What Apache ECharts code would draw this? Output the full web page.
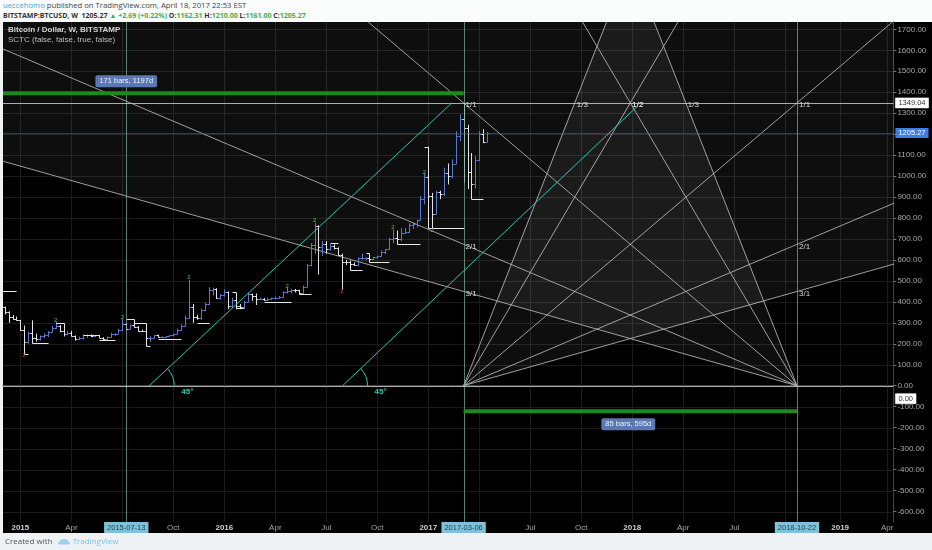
<!DOCTYPE html>
<html><head><meta charset="utf-8">
<script src="https://cdn.jsdelivr.net/npm/echarts@6/dist/echarts.min.js"></script>
<style>
html,body{margin:0;padding:0;width:932px;height:550px;overflow:hidden;background:#eef2f4;font-family:'Open Sans',sans-serif;}
#hdr{position:absolute;left:0;top:0;width:932px;height:22px;background:#fbfcfc;}
#hdr .l1{position:absolute;left:3px;top:1px;font-size:7.7px;line-height:9px;color:#444;white-space:nowrap;}
#hdr .l2{position:absolute;left:3px;top:11px;font-size:7px;line-height:9px;font-weight:bold;color:#333;white-space:nowrap;}
#hdr .u{color:#3aa6dc;}
#hdr .g{color:#3cae4c;}
#blk{position:absolute;left:3px;top:22px;width:929px;height:511px;background:#000;}
#c{position:absolute;left:0;top:0;width:932px;height:550px;}
#ftr{position:absolute;left:5px;top:536px;font-size:8px;line-height:10px;color:#555;white-space:nowrap;}
#ftr .tv{color:#7cc2e6;}
#logo{display:inline-block;width:12px;height:7px;vertical-align:-1px;margin:0 3px 0 3px;}
</style>
</head><body>
<div id="hdr">
 <div class="l1"><span class="u">ueccehomo</span> published on TradingView.com, April 18, 2017 22:53 EST</div>
 <div class="l2">BITSTAMP:BTCUSD, W &nbsp;1205.27 <span class="g">▲ +2.69 (+0.22%)</span> O:<span class="g">1162.31</span> H:<span class="g">1210.00</span> L:<span class="g">1161.00</span> C:<span class="g">1205.27</span></div>
</div>
<div id="blk"></div>
<div id="c"></div>
<div id="ftr">Created with <svg id="logo" viewBox="0 0 24 14"><path d="M3 13 Q0 13 0 10 Q0 7 3 7 Q4 2 9 3 Q12 0 16 3 Q21 3 22 8 Q24 9 24 11 Q24 13 21 13 Z" fill="#9bd0ee"/></svg><span class="tv">TradingView</span></div>
<script>
// ================= DATA =================
const firstBarDate = '2014-12-01';           // weekly bars, one per week from here
const opens  = [378,375,350,330,318,314,268,208,252,228,222,235,240,255,275,285,260,248,253,236,222,226,240,242,237,240,230,222,233,245,248,265,295,272,290,282,262,260,228,230,240,232,232,235,240,247,268,285,325,375,330,324,360,390,455,460,420,432,448,382,408,378,374,400,438,430,412,415,410,416,418,420,424,448,452,458,455,442,472,575,670,760,660,675,650,665,655,625,590,588,580,575,608,608,610,603,612,617,640,650,700,705,700,730,735,765,770,790,892,998,905,820,925,915,1015,1000,1060,1190,1270,1230,1020,960,1075,1200,1162.31];
const highs  = [382,378,355,338,330,314,275,258,310,248,240,250,260,285,305,290,262,262,262,240,235,245,245,245,241,243,232,235,252,250,272,318,298,292,298,285,268,262,236,240,244,236,238,240,248,272,292,335,505,390,338,368,395,470,468,465,438,460,450,420,410,390,405,445,440,440,420,418,420,420,425,428,450,468,462,462,458,478,580,680,778,765,690,690,675,675,660,630,600,590,588,612,630,612,612,615,620,645,650,705,745,740,752,752,775,780,792,905,1012,1140,920,930,930,1040,1060,1080,1214,1295,1349.04,1245,1110,1095,1214,1224,1210];
const lows   = [362,340,300,315,310,262,152,200,215,210,215,228,232,254,270,255,235,240,235,215,218,220,228,232,232,228,218,220,230,238,248,262,270,268,278,258,256,190,208,225,230,226,228,233,236,245,262,284,320,300,315,315,355,385,430,415,410,425,365,370,365,365,370,398,405,385,408,405,405,410,415,418,422,440,440,445,435,438,470,570,630,530,620,630,645,650,620,460,575,565,572,570,602,600,595,600,608,615,628,648,680,690,690,725,728,748,755,788,865,812,750,815,890,905,960,990,1058,1166,968,938,890,940,1071,1157,1161];
const closes = [375,350,330,318,314,268,208,252,228,222,235,240,255,275,285,260,248,253,236,222,226,240,242,237,240,230,222,233,245,248,265,295,272,290,282,262,260,228,230,240,232,232,235,240,247,268,285,325,375,330,324,360,390,455,460,420,432,448,382,408,378,374,400,438,430,412,415,410,416,418,420,424,448,452,458,455,442,472,575,670,760,660,675,650,665,655,625,590,588,580,575,608,608,610,603,612,617,640,650,700,705,700,730,735,765,770,790,892,998,905,820,925,915,1015,1000,1060,1190,1270,1230,1020,960,1075,1200,1163,1205.27];

// x-axis tick labels (placed on the first weekly bar of each period)
const xTickDates  = ['2015-01-05','2015-04-06','2015-07-06','2015-10-05','2016-01-04','2016-04-04','2016-07-04','2016-10-03','2017-01-02','2017-04-03','2017-07-03','2017-10-02','2018-01-01','2018-04-02','2018-07-02','2018-10-01','2019-01-07','2019-04-01'];
const xTickLabels = ['2015','Apr','Jul','Oct','2016','Apr','Jul','Oct','2017','Apr','Jul','Oct','2018','Apr','Jul','Oct','2019','Apr'];
const xHighlightDates = ['2015-07-13','2017-03-06','2018-10-22'];
// y-axis ticks
const yTickValues = [-600,-500,-400,-300,-200,-100,0,100,200,300,400,500,600,700,800,900,1000,1100,1200,1300,1400,1500,1600,1700];
// price-scale boxes
const priceBoxValues = [1349.04, 1205.27, -62];
const priceBoxTexts  = ['1349.04','1205.27','0.00'];
const priceBoxStyles = ['w','b','w'];

// drawings
const vLineDates = ['2015-07-13','2017-03-06','2018-10-22'];
const hLinePrices = [1349.04, 0];
const lastPrice = 1205.27;
const fanOrigins = ['2017-03-06','2018-10-22'];
const fanCorners = ['2018-10-22','2017-03-06'];
const fanBasePrice = 0, fanTopPrice = 1349.04;
const fanLevelLabels = ['1/3','1/2','1/1','2/1','3/1'];
const fanTimeFrac  = [1/3, 1/2, 1, 1, 1];
const fanPriceFrac = [1, 1, 1, 1/2, 1/3];
const trendStarts = [['2015-08-23',0],['2016-08-02',0]];
const trendEnds   = [['2017-02-13',1349.04],['2018-01-10',1333]];
const rangeStarts = ['2013-11-25','2017-03-06'];
const rangeEnds   = ['2017-03-06','2018-10-22'];
const rangePrices = [1395, -122];
const rangeTexts  = ['171 bars, 1197d','85 bars, 595d'];
// SCTC indicator brackets
const brackets = [
 [['2014-11-24',452],['2014-12-29',452]],
 [['2015-01-12',290],['2015-01-12',152],['2015-01-19',152]],
 [['2015-01-26',312],['2015-01-26',206],['2015-02-23',206]],
 [['2015-03-09',300],['2015-03-23',300],['2015-03-23',262]],
 [['2015-04-27',241],['2015-05-25',241]],
 [['2015-05-25',220],['2015-06-22',220]],
 [['2015-07-13',318],['2015-07-27',318],['2015-07-27',297],['2015-08-17',297],['2015-08-17',190],['2015-08-24',190]],
 [['2015-09-07',223],['2015-10-19',223]],
 [['2015-11-16',297],['2015-12-07',297]],
 [['2016-01-18',448],['2016-01-25',448],['2016-01-25',372],['2016-02-08',372]],
 [['2016-03-14',398],['2016-05-02',398]],
 [['2016-05-16',437],['2016-06-06',437]],
 [['2016-07-11',683],['2016-07-25',683]],
 [['2016-08-15',600],['2016-08-15',551],['2016-09-05',551]],
 [['2016-09-12',631],['2016-09-19',631],['2016-09-19',591],['2016-10-24',591]],
 [['2016-11-07',705],['2016-11-07',674],['2016-12-19',674]],
 [['2016-12-26',1140],['2017-01-02',1140],['2017-01-02',752],['2017-03-06',752]],
 [['2017-03-20',893],['2017-04-10',893]]
];
const greenMarks = [['2015-03-09',314],['2015-07-06',325],['2015-11-02',516],['2016-04-25',476],['2016-06-13',790],['2016-10-31',757],['2016-12-26',1019],['2017-01-09',742]];
const redMarks = [['2015-01-12',146],['2016-08-01',451]];

// axis extents
const xMinDate = '2014-12-05', xMaxDate = '2019-04-12';
const yMin = -650, yMax = 1735;

// ================= HELPERS =================
const DAY = 86400000;
function ts(s){ const p = s.split('-').map(Number); return Date.UTC(p[0], p[1]-1, p[2]); }
const barDates = opens.map((_, i) => ts(firstBarDate) + i * 7 * DAY);
const ohlcData = barDates.map((t, i) => [t, opens[i], highs[i], lows[i], closes[i]]);
const xTickTs = xTickDates.map(ts);
const xLabelMap = {}; xTickTs.forEach((t, i) => { xLabelMap[t] = xTickLabels[i]; });
const hlTs = xHighlightDates.map(ts);
const hlMap = {}; hlTs.forEach((t, i) => { hlMap[t] = xHighlightDates[i]; });

const BLUE = '#5a7ad2', WHITE = '#e4e4e4', CYAN = '#2cc6ae', FAN = 'rgba(185,185,185,0.85)';
const FONT = "'Liberation Sans', Arial, sans-serif";

function cr(v){ return Math.round(v) + 0.5; }

// ================= RENDERERS =================
function renderGrid(params, api){
  const cs = params.coordSys;
  const kind = api.value(2);
  let shape;
  if (kind === 0) { const x = cr(api.coord([api.value(0), 0])[0]); shape = {x1:x, y1:cs.y, x2:x, y2:cs.y+cs.height}; }
  else { const y = cr(api.coord([api.value(0), api.value(1)])[1]); shape = {x1:cs.x, y1:y, x2:cs.x+cs.width, y2:y}; }
  return {type:'line', shape, style:{stroke:'#1b1b1b', lineWidth:1}};
}
function renderOHLC(params, api){
  const t = api.value(0), o = api.value(1), h = api.value(2), l = api.value(3), c = api.value(4);
  const pH = api.coord([t, h]), pL = api.coord([t, l]), pO = api.coord([t, o]), pC = api.coord([t, c]);
  const x = cr(pH[0]);
  const col = c >= o ? BLUE : WHITE;
  const st = {stroke: col, lineWidth: 1};
  return {type:'group', children:[
    {type:'line', shape:{x1:x, y1:pH[1], x2:x, y2:pL[1]}, style:st},
    {type:'line', shape:{x1:x-2, y1:cr(pO[1]), x2:x, y2:cr(pO[1])}, style:st},
    {type:'line', shape:{x1:x, y1:cr(pC[1]), x2:x+2, y2:cr(pC[1])}, style:st}
  ]};
}
function renderRefLine(params, api){
  const cs = params.coordSys;
  const kind = api.value(2);
  if (kind === 0) {
    const x = cr(api.coord([api.value(0), 0])[0]);
    return {type:'line', shape:{x1:x, y1:cs.y, x2:x, y2:cs.y+cs.height}, style:{stroke:'rgba(120,170,150,0.75)', lineWidth:1}};
  }
  const y = cr(api.coord([api.value(0), api.value(1)])[1]);
  const stroke = kind === 2 ? 'rgba(70,90,200,0.55)' : 'rgba(200,200,200,0.85)';
  return {type:'line', shape:{x1:cs.x, y1:y, x2:cs.x+cs.width, y2:y}, style:{stroke, lineWidth:1}};
}
function renderFan(params, api){
  const oT = api.value(0), oP = api.value(1), cT = api.value(2), cP = api.value(3);
  const dT = cT - oT, dP = cP - oP, K = 4;
  const O = api.coord([oT, oP]);
  const far = [], box = [];
  for (let i = 0; i < fanLevelLabels.length; i++) {
    far.push(api.coord([oT + K*fanTimeFrac[i]*dT, oP + K*fanPriceFrac[i]*dP]));
    box.push(api.coord([oT + fanTimeFrac[i]*dT, oP + fanPriceFrac[i]*dP]));
  }
  const ch = [];
  for (let i = 0; i < far.length - 1; i++) {
    ch.push({type:'polygon', shape:{points:[O, far[i], far[i+1]]}, style:{fill:'rgba(255,255,255,0.055)'}});
  }
  for (let i = 0; i < far.length; i++) {
    ch.push({type:'line', shape:{x1:O[0], y1:O[1], x2:far[i][0], y2:far[i][1]}, style:{stroke:FAN, lineWidth:1}});
  }
  for (let i = 0; i < box.length; i++) {
    ch.push({type:'text', x:box[i][0]+2, y:box[i][1]+2, style:{text:fanLevelLabels[i], fill:'#d6d6d6', font:'8px '+FONT, align:'left', verticalAlign:'middle'}});
  }
  return {type:'group', children:ch};
}
function renderTrend(params, api){
  const s = api.coord([api.value(0), api.value(1)]), e = api.coord([api.value(2), api.value(3)]);
  const ang = Math.atan2(e[1]-s[1], e[0]-s[0]);
  return {type:'group', children:[
    {type:'line', shape:{x1:s[0], y1:s[1], x2:e[0], y2:e[1]}, style:{stroke:CYAN, lineWidth:1}},
    {type:'arc', shape:{cx:s[0], cy:s[1], r:25, startAngle:ang, endAngle:0, clockwise:true}, style:{stroke:CYAN, lineWidth:1, fill:null}},
    {type:'text', x:s[0]+32, y:s[1]+6, style:{text:'45°', fill:CYAN, font:'bold 8px '+FONT, align:'left', verticalAlign:'middle'}}
  ]};
}
function renderRange(params, api){
  const i = params.dataIndex;
  const a = api.coord([api.value(0), api.value(2)]), b = api.coord([api.value(1), api.value(2)]);
  const m = api.coord([(api.value(0)+api.value(1))/2, api.value(2)]);
  const dy = i === 0 ? -12 : 13;
  return {type:'group', children:[
    {type:'line', shape:{x1:a[0], y1:a[1], x2:b[0], y2:b[1]}, style:{stroke:'#1c8a1c', lineWidth:4}},
    {type:'text', x:m[0]-2, y:m[1]+dy, style:{text:rangeTexts[i], fill:'#eef2fa', font:'7.5px '+FONT, align:'center', verticalAlign:'middle', backgroundColor:'#5b78b2', padding:[2,4,2,4], borderRadius:2}}
  ]};
}
function renderBracket(params, api){
  const pts = brackets[params.dataIndex].map(p => { const c = api.coord([ts(p[0]), p[1]]); return [cr(c[0]), cr(c[1])]; });
  return {type:'polyline', shape:{points:pts}, style:{stroke:'#e8e8e8', lineWidth:1, fill:null}};
}
function renderMark(color){
  return function(params, api){
    const c = api.coord([api.value(0), api.value(1)]);
    return {type:'text', x:c[0], y:c[1], style:{text:'2', fill:color, font:'6px '+FONT, align:'center', verticalAlign:'middle'}};
  };
}

// ================= OPTION =================
const gridData = xTickTs.map(t => [t, 0, 0]).concat(yTickValues.map(v => [ts(xMinDate), v, 1]));
const refData = vLineDates.map(d => [ts(d), 0, 0]).concat(hLinePrices.map(p => [ts(xMinDate), p, 1])).concat([[ts(xMinDate), lastPrice, 2]]);
const fanData = fanOrigins.map((d, i) => [ts(d), fanBasePrice, ts(fanCorners[i]), fanTopPrice]);
const trendData = trendStarts.map((s, i) => [ts(s[0]), s[1], ts(trendEnds[i][0]), trendEnds[i][1]]);
const rangeData = rangeStarts.map((s, i) => [ts(s), ts(rangeEnds[i]), rangePrices[i]]);
const bracketData = brackets.map(b => [ts(b[0][0]), b[0][1]]);
const greenData = greenMarks.map(m => [ts(m[0]), m[1]]);
const redData = redMarks.map(m => [ts(m[0]), m[1]]);

const xBase = {type:'value', min:ts(xMinDate), max:ts(xMaxDate), gridIndex:0, position:'bottom', splitLine:{show:false}, scale:true};
const yBase = {type:'value', min:yMin, max:yMax, gridIndex:0, position:'right', splitLine:{show:false}, scale:true};

const option = {
  animation:false,
  backgroundColor:'transparent',
  textStyle:{fontFamily:FONT},
  grid:{left:3, right:31, top:22, bottom:28, containLabel:false},
  graphic:[
    {type:'text', left:8, top:26, z:100, silent:true, style:{text:'Bitcoin / Dollar, W, BITSTAMP', fill:'#d2d2d2', font:'bold 8px '+FONT}},
    {type:'text', left:8, top:36, z:100, silent:true, style:{text:'SCTC (false, false, true, false)', fill:'#bdbdbd', font:'8px '+FONT}}
  ],
  xAxis:[
    Object.assign({}, xBase, {
      axisLine:{show:true, lineStyle:{color:'#444'}}, axisTick:{show:false},
      axisLabel:{customValues:xTickTs, hideOverlap:false, showMinLabel:true, showMaxLabel:true, margin:2, color:'#a4a4a4', fontSize:8,
        formatter:function(v){ const s = xLabelMap[v] || ''; return /^\d{4}$/.test(s) ? '{y|'+s+'}' : s; },
        rich:{y:{fontWeight:'bold', color:'#cfcfcf', fontSize:8}}}
    }),
    Object.assign({}, xBase, {
      z:10, axisLine:{show:false}, axisTick:{show:false},
      axisLabel:{customValues:hlTs, hideOverlap:false, showMinLabel:true, showMaxLabel:true, margin:0,
        formatter:function(v){ return '{h|'+(hlMap[v]||'')+'}'; },
        rich:{h:{backgroundColor:'#7fc2d8', color:'#1f3d4d', fontSize:7.5, padding:[2,3,1,3]}}}
    })
  ],
  yAxis:[
    Object.assign({}, yBase, {
      axisLine:{show:true, lineStyle:{color:'#444'}},
      axisTick:{show:true, customValues:yTickValues, length:3, lineStyle:{color:'#777'}},
      axisLabel:{customValues:yTickValues, showMinLabel:true, showMaxLabel:true, hideOverlap:false, margin:4, color:'#a8a8a8', fontSize:8,
        formatter:function(v){ return v.toFixed(2); }}
    }),
    Object.assign({}, yBase, {
      z:10, axisLine:{show:false}, axisTick:{show:false},
      axisLabel:{customValues:priceBoxValues, showMinLabel:true, showMaxLabel:true, hideOverlap:false, margin:2,
        formatter:function(v){ const i = priceBoxValues.indexOf(v); return i < 0 ? '' : '{'+priceBoxStyles[i]+'|'+priceBoxTexts[i]+'}'; },
        rich:{
          w:{backgroundColor:'#ffffff', color:'#333', fontSize:7.5, padding:[1,3,1,3], borderColor:'#999', borderWidth:0.5},
          b:{backgroundColor:'#3b7fe6', color:'#ffffff', fontSize:7.5, padding:[1,3,1,3]}
        }}
    })
  ],
  series:[
    {type:'custom', name:'grid', z:1, silent:true, clip:true, renderItem:renderGrid, data:gridData, encode:{x:0, y:1}},
    {type:'custom', name:'fans', z:3, silent:true, clip:true, renderItem:renderFan, data:fanData, encode:{x:[0,2], y:[1,3]}},
    {type:'custom', name:'BTCUSD', z:4, silent:true, clip:true, renderItem:renderOHLC, data:ohlcData, encode:{x:0, y:[1,2,3,4]}},
    {type:'custom', name:'SCTC', z:5, silent:true, clip:true, renderItem:renderBracket, data:bracketData, encode:{x:0, y:1}},
    {type:'custom', name:'marksG', z:5, silent:true, clip:true, renderItem:renderMark('#4cc25a'), data:greenData, encode:{x:0, y:1}},
    {type:'custom', name:'marksR', z:5, silent:true, clip:true, renderItem:renderMark('#e04848'), data:redData, encode:{x:0, y:1}},
    {type:'custom', name:'refLines', z:6, silent:true, clip:true, renderItem:renderRefLine, data:refData, encode:{x:0, y:1}},
    {type:'custom', name:'trend', z:7, silent:true, clip:true, renderItem:renderTrend, data:trendData, encode:{x:[0,2], y:[1,3]}},
    {type:'custom', name:'ranges', z:8, silent:true, clip:true, renderItem:renderRange, data:rangeData, encode:{x:[0,1], y:2}}
  ]
};
const chart = echarts.init(document.getElementById('c'), null, {renderer:'canvas'});
chart.setOption(option);
</script>
</body></html>
